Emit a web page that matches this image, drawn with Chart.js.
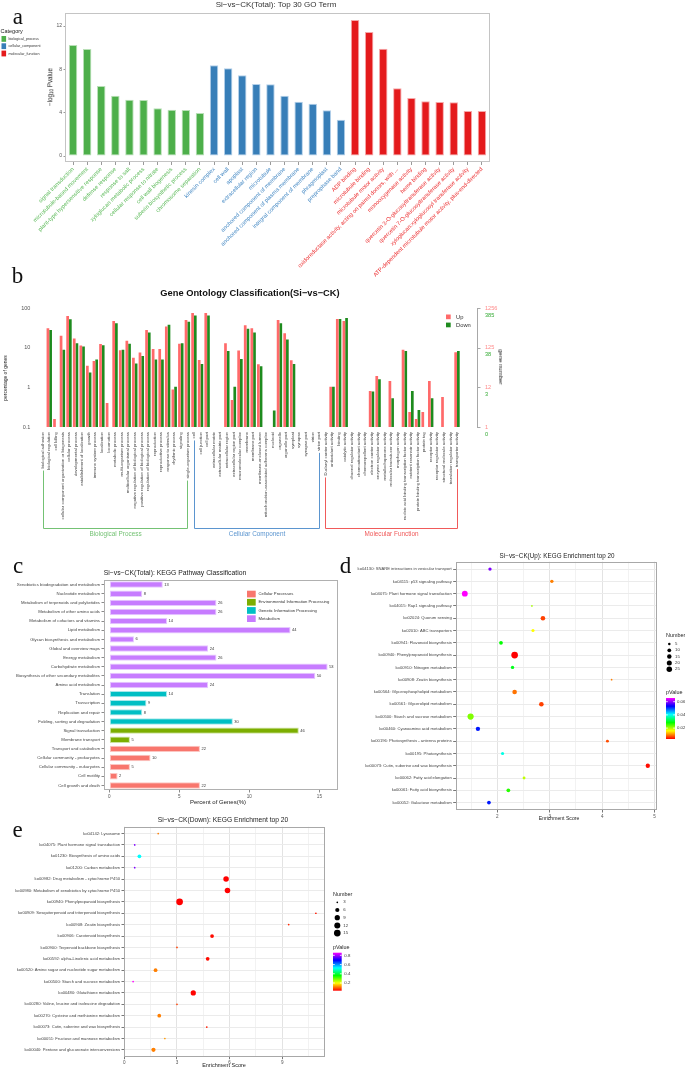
<!DOCTYPE html>
<html><head><meta charset="utf-8">
<script src="https://cdn.jsdelivr.net/npm/chart.js@4.4.1/dist/chart.umd.min.js"></script>
<style>
html,body{margin:0;padding:0;background:#fff;}
body{width:685px;height:1069px;position:relative;overflow:hidden;font-family:"Liberation Sans",Arial,Helvetica,sans-serif;}
canvas{position:absolute;}
.t{position:absolute;white-space:nowrap;line-height:1;}
</style></head><body>
<script>
// ================= DATA =================
// Panel a: Top 30 GO terms
const goTerms = ['signal transduction','microtubule-based movement','plant-type hypersensitive response','defense response','response to salt','xyloglucan metabolic process','cellular response to nitrate','cell wall biogenesis','suberin biosynthetic process','chromosome separation',
 'kinesin complex','cell wall','apoplast','extracellular region','microtubule','anchored component of membrane','anchored component of plasma membrane','integral component of membrane','phragmoplast','preprophase band',
 'ADP binding','microtubule binding','microtubule motor activity','oxidoreductase activity, acting on paired donors, with ...','monooxygenase activity','heme binding','quercetin 3-O-glucosyltransferase activity','quercetin 7-O-glucosyltransferase activity','xyloglucan:xyloglucosyl transferase activity','ATP-dependent microtubule motor activity, plus-end-directed'];
const goCategory = ['biological_process','biological_process','biological_process','biological_process','biological_process','biological_process','biological_process','biological_process','biological_process','biological_process',
 'cellular_component','cellular_component','cellular_component','cellular_component','cellular_component','cellular_component','cellular_component','cellular_component','cellular_component','cellular_component',
 'molecular_function','molecular_function','molecular_function','molecular_function','molecular_function','molecular_function','molecular_function','molecular_function','molecular_function','molecular_function'];
const goLogP = [10.25,9.88,6.46,5.57,5.2,5.17,4.4,4.27,4.25,3.97, 8.37,8.1,7.45,6.65,6.62,5.57,5.01,4.83,4.22,3.35, 12.56,11.45,9.9,6.25,5.36,5.05,4.99,4.96,4.16,4.16];
const goYTicks = [0,4,8,12];
const goCategoryNames = ['biological_process','cellular_component','molecular_function'];

// Panel b: GO classification
const gocBP = ['biological adhesion','biological regulation','cell killing','cellular component organization or biogenesis','cellular process','developmental process','establishment of localization','growth','immune system process','localization','locomotion','metabolic process','multi-organism process','multicellular organismal process','negative regulation of biological process','positive regulation of biological process','regulation of biological process','reproduction','reproductive process','response to stimulus','rhythmic process','signaling','single-organism process'];
const gocCC = ['cell','cell junction','cell part','extracellular matrix','extracellular matrix part','extracellular region','extracellular region part','macromolecular complex','membrane','membrane part','membrane-enclosed lumen','mitochondrion-associated adherens complex','nucleoid','organelle','organelle part','symplast','synapse','synapse part','virion','virion part'];
const gocMF = ['D-alanyl carrier activity','antioxidant activity','binding','catalytic activity','channel regulator activity','chemoattractant activity','chemorepellent activity','electron carrier activity','enzyme regulator activity','metallochaperone activity','molecular transducer activity','morphogen activity','nucleic acid binding transcription factor activity','nutrient reservoir activity','protein binding transcription factor activity','protein tag','receptor activity','receptor regulator activity','structural molecule activity','translation regulator activity','transporter activity'];
const gocGroupNames = ['Biological Process','Cellular Component','Molecular Function'];
const gocUp = [null,31,0.16,20,63,17,11.4,3.5,4.6,12.3,0.4,47,8.6,15,5.6,7.5,28,9.3,9.3,34,0.88,12.5,50,
 75,4.9,75,null,null,13,0.48,8.5,37,31,3.8,null,null,50,23,4.8,null,null,null,null,
 null,1.03,53,47,null,null,null,0.81,1.94,null,1.45,null,8.8,0.24,0.16,0.24,1.45,null,0.57,null,7.7];
const gocDown = [null,28,null,8.8,52,13,10.7,2.35,5.0,11.5,null,41,8.8,12.5,4.0,6.2,24,5.0,5.0,38,1.03,13,45,
 65,3.9,65,null,null,8.2,1.03,5.2,30,24,3.4,null,0.26,41,16,3.9,null,null,null,null,
 null,1.03,53,56,null,null,null,0.78,1.6,null,0.53,null,8.3,0.81,0.27,null,0.53,null,null,null,8.3];
const gocYTicks = [0.1,1,10,100];
const gocUpNumbers = ['1','12','125','1256'];
const gocDownNumbers = ['0','3','38','385'];

// Panel c: KEGG classification
const keggClasses = ['Xenobiotics biodegradation and metabolism','Nucleotide metabolism','Metabolism of terpenoids and polyketides','Metabolism of other amino acids','Metabolism of cofactors and vitamins','Lipid metabolism','Glycan biosynthesis and metabolism','Global and overview maps','Energy metabolism','Carbohydrate metabolism','Biosynthesis of other secondary metabolites','Amino acid metabolism','Translation','Transcription','Replication and repair','Folding, sorting and degradation','Signal transduction','Membrane transport','Transport and catabolism','Cellular community - prokaryotes','Cellular community - eukaryotes','Cell motility','Cell growth and death'];
const keggGroup = ['Metabolism','Metabolism','Metabolism','Metabolism','Metabolism','Metabolism','Metabolism','Metabolism','Metabolism','Metabolism','Metabolism','Metabolism',
 'Genetic Information Processing','Genetic Information Processing','Genetic Information Processing','Genetic Information Processing',
 'Environmental Information Processing','Environmental Information Processing',
 'Cellular Processes','Cellular Processes','Cellular Processes','Cellular Processes','Cellular Processes'];
const keggPercent = [3.82,2.35,7.65,7.65,4.12,12.94,1.76,7.06,7.65,15.59,14.71,7.06,4.12,2.65,2.35,8.82,13.53,1.47,6.47,2.94,1.47,0.59,6.47];
const keggGenes = [13,8,26,26,14,44,6,24,26,53,50,24,14,9,8,30,46,5,22,10,5,2,22];
const keggGroupNames = ['Cellular Processes','Environmental Information Processing','Genetic Information Processing','Metabolism'];
const keggXTicks = [0,5,10,15];

// Panel d: KEGG enrichment (Up)
const upPathways = ['ko04130: SNARE interactions in vesicular transport','ko04115: p53 signaling pathway','ko04075: Plant hormone signal transduction','ko04015: Rap1 signaling pathway','ko02024: Quorum sensing','ko02010: ABC transporters','ko00941: Flavonoid biosynthesis','ko00940: Phenylpropanoid biosynthesis','ko00910: Nitrogen metabolism','ko00908: Zeatin biosynthesis','ko00564: Glycerophospholipid metabolism','ko00561: Glycerolipid metabolism','ko00500: Starch and sucrose metabolism','ko00460: Cyanoamino acid metabolism','ko00196: Photosynthesis - antenna proteins','ko00195: Photosynthesis','ko00073: Cutin, suberine and wax biosynthesis','ko00062: Fatty acid elongation','ko00061: Fatty acid biosynthesis','ko00052: Galactose metabolism'];
const upScore = [1.86,3.04,1.38,2.66,2.87,2.68,2.07,2.33,2.29,4.18,2.33,2.84,1.49,1.63,4.10,2.10,4.87,2.51,2.21,1.84];
const upNumber = [8,8,29,4,16,7,10,40,8,4,16,16,33,14,6,7,14,6,10,10];
const upPValue = [0.0594,0.0097,0.0656,0.0203,0.0066,0.0159,0.0283,0.0035,0.0296,0.0097,0.0091,0.0066,0.0221,0.052,0.0072,0.0395,0.0041,0.019,0.0265,0.052];
const upXTicks = [1.5,2,2.5,3,3.5,4,4.5,5];
const upLegendNumbers = [5,10,15,20,25];
const upLegendP = [0.02,0.04,0.06];

// Panel e: KEGG enrichment (Down)
const downPathways = ['ko04142: Lysosome','ko04075: Plant hormone signal transduction','ko01230: Biosynthesis of amino acids','ko01200: Carbon metabolism','ko00982: Drug metabolism - cytochrome P450','ko00980: Metabolism of xenobiotics by cytochrome P450','ko00940: Phenylpropanoid biosynthesis','ko00909: Sesquiterpenoid and triterpenoid biosynthesis','ko00908: Zeatin biosynthesis','ko00906: Carotenoid biosynthesis','ko00900: Terpenoid backbone biosynthesis','ko00592: alpha-Linolenic acid metabolism','ko00520: Amino sugar and nucleotide sugar metabolism','ko00500: Starch and sucrose metabolism','ko00480: Glutathione metabolism','ko00280: Valine, leucine and isoleucine degradation','ko00270: Cysteine and methionine metabolism','ko00073: Cutin, suberine and wax biosynthesis','ko00051: Fructose and mannose metabolism','ko00040: Pentose and glucuronate interconversions'];
const downScore = [1.93,0.59,0.86,0.59,5.80,5.88,3.15,10.92,9.37,5.00,3.00,4.75,1.78,0.50,3.93,3.00,1.99,4.70,2.31,1.66];
const downNumber = [3,3,5,3,10,10,15,3,3,5,3,5,5,3,9,3,5,3,3,6];
const downPValue = [0.115,0.775,0.527,0.775,0.033,0.033,0.033,0.049,0.058,0.04,0.074,0.04,0.115,0.857,0.035,0.074,0.115,0.05,0.132,0.115];
const downXTicks = [0,1.5,3,4.5,6,7.5,9,10.5];
const downLegendNumbers = [3,6,9,12,15];
const downLegendP = [0.2,0.4,0.6,0.8];

// ================= STYLE / HELPERS =================
const SANS = '"Liberation Sans", Arial, sans-serif';
const SERIF = '"Liberation Serif", "Times New Roman", serif';
Chart.defaults.font.family = SANS;
Chart.defaults.color = '#4D4D4D';
Chart.defaults.animation = false;
Chart.defaults.responsive = false;
Chart.defaults.devicePixelRatio = 1;
Chart.defaults.events = [];
Chart.defaults.plugins.legend.display = false;
Chart.defaults.plugins.tooltip.enabled = false;

function mkCanvas(x,y,w,h){
  const c=document.createElement('canvas');
  c.width=w;c.height=h;c.style.left=x+'px';c.style.top=y+'px';c.style.width=w+'px';c.style.height=h+'px';
  document.body.appendChild(c);return c;
}
function addText(html,x,y,o){
  o=o||{};
  const d=document.createElement('div');d.className='t';d.innerHTML=html;
  d.style.left=x+'px';d.style.top=y+'px';d.style.fontSize=(o.size||6)+'px';
  d.style.color=o.color||'#222';
  if(o.weight)d.style.fontWeight=o.weight;
  if(o.family)d.style.fontFamily=o.family;
  const tx=o.anchor==='start'?'0':o.anchor==='end'?'-100%':'-50%';
  d.style.transform='translate('+tx+',-50%)'+(o.rotate?' rotate('+o.rotate+'deg)':'');
  document.body.appendChild(d);
}
function framePlugin(color,ext){
  return {id:'frame',afterDraw(ch){
    const a=ch.chartArea,ctx=ch.ctx;ctx.save();ctx.strokeStyle=color;ctx.lineWidth=1;
    ctx.strokeRect(Math.round(a.left-ext)+0.5,Math.round(a.top)+0.5,Math.round(a.right-a.left+2*ext)-1,Math.round(a.bottom-a.top)-1);
    ctx.restore();}};
}
const RAMP=[[0,255,0,0],[0.2,255,255,0],[0.4,0,255,0],[0.6,0,255,255],[0.8,0,0,255],[1,255,0,255]];
function rampColor(f){
  f=Math.max(0,Math.min(1,f));
  for(let i=1;i<RAMP.length;i++){
    if(f<=RAMP[i][0]){const a=RAMP[i-1],b=RAMP[i],t=(f-a[0])/(b[0]-a[0]);
      return 'rgb('+Math.round(a[1]+(b[1]-a[1])*t)+','+Math.round(a[2]+(b[2]-a[2])*t)+','+Math.round(a[3]+(b[3]-a[3])*t)+')';}
  }
  return 'rgb(255,0,255)';
}
function sizeRadius(n,lo,hi){ // area-type size scale (diameter in px)
  const d=1.7+5*Math.sqrt(Math.max(0,(n-lo)/(hi-lo)));
  return d/2;
}

// ================= PANEL A =================
const A_FILL={biological_process:'#4DAF4A',cellular_component:'#377EB8',molecular_function:'#E41A1C'};
const A_EDGE={biological_process:'#B9E0B7',cellular_component:'#B3D0EA',molecular_function:'#F5A8A9'};
const A_TEXT={biological_process:'#5CBA59',cellular_component:'#4589C4',molecular_function:'#EC2C2E'};
const aLegend={id:'aLegend',afterDraw(ch){
  const ctx=ch.ctx;ctx.save();ctx.textBaseline='middle';ctx.fillStyle='#222';
  ctx.font='5.5px '+SANS;ctx.fillText('Category',0.5,31.7);
  goCategoryNames.forEach((c,i)=>{
    const y=36+i*7.3;ctx.fillStyle=A_FILL[c];ctx.fillRect(1.5,y,4.6,5.8);
    ctx.fillStyle='#333';ctx.font='3.7px '+SANS;ctx.fillText(c,8.5,y+3);
  });
  ctx.restore();}};
new Chart(mkCanvas(0,0,685,300),{
  type:'bar',
  data:{labels:goTerms,datasets:[{data:goLogP,backgroundColor:goCategory.map(c=>A_FILL[c]),borderColor:goCategory.map(c=>A_EDGE[c]),borderWidth:1,borderSkipped:false,categoryPercentage:1,barPercentage:0.6}]},
  options:{
    layout:{padding:{left:0,top:13,right:196,bottom:0}},
    scales:{
      x:{grid:{display:true,drawOnChartArea:false,offset:false,tickLength:3,color:'#9A9A9A'},border:{display:false},
         ticks:{autoSkip:false,minRotation:45,maxRotation:45,padding:1,font:{size:5.7},color:c=>A_TEXT[goCategory[c.index]]},
         afterFit:s=>{s.height=138;}},
      y:{min:-0.55,max:13.2,afterBuildTicks:s=>{s.ticks=goYTicks.map(v=>({value:v}));},
         grid:{drawOnChartArea:false,tickLength:2.5,color:'#9A9A9A'},border:{display:false},
         ticks:{font:{size:5},padding:1.5,color:'#555'},afterFit:s=>{s.width=66;}}
    }
  },
  plugins:[framePlugin('#C4C4C4',1),aLegend]
});

// ================= PANEL B =================
const B_UP='#FF6A6A',B_DOWN='#1E8B1E';
const B_GROUP_COLORS=['#74C274','#5B95CF','#F05A5A'];
const gocTerms=[].concat(gocBP,gocCC,gocMF);
const gocGroupRanges=[[0,gocBP.length-1],[gocBP.length,gocBP.length+gocCC.length-1],[gocBP.length+gocCC.length,gocTerms.length-1]];
const bPlugin={id:'bExtra',afterDraw(ch){
  const ctx=ch.ctx,a=ch.chartArea,x=ch.scales.x,y=ch.scales.y;ctx.save();
  // right secondary axis
  const ax=a.right+16.7;
  ctx.strokeStyle='#A8A8A8';ctx.lineWidth=1;ctx.beginPath();
  ctx.moveTo(ax+0.5,y.getPixelForValue(100));ctx.lineTo(ax+0.5,y.getPixelForValue(0.1));
  gocYTicks.forEach(v=>{const py=Math.round(y.getPixelForValue(v))+0.5;ctx.moveTo(ax,py);ctx.lineTo(ax+3.5,py);});
  ctx.stroke();
  ctx.font='5.6px '+SANS;ctx.textBaseline='middle';
  gocYTicks.forEach((v,i)=>{const py=y.getPixelForValue(v);
    ctx.fillStyle='#FF8A8A';ctx.fillText(gocUpNumbers[i],ax+8,py);
    ctx.fillStyle='#33AA33';ctx.fillText(gocDownNumbers[i],ax+8,py+7.2);});
  // legend
  ctx.fillStyle=B_UP;ctx.fillRect(446,54.5,4.7,4.7);
  ctx.fillStyle=B_DOWN;ctx.fillRect(446,62.6,4.7,4.7);
  ctx.fillStyle='#333';ctx.font='5.8px '+SANS;ctx.fillText('Up',456,57);ctx.fillText('Down',456,65.1);
  // group brackets
  const lblFont='4.3px '+SANS;const by=268;
  gocGroupRanges.forEach((r,g)=>{
    ctx.font=lblFont;
    const x0=Math.round(x.getPixelForValue(r[0]))+0.5,x1=Math.round(x.getPixelForValue(r[1]))+0.5;
    const y0=x.top+5+ctx.measureText(gocTerms[r[0]]).width+2,y1=x.top+5+ctx.measureText(gocTerms[r[1]]).width+2;
    ctx.strokeStyle=B_GROUP_COLORS[g];ctx.lineWidth=1;ctx.beginPath();
    ctx.moveTo(x0,y0);ctx.lineTo(x0,by+0.5);ctx.lineTo(x1,by+0.5);ctx.lineTo(x1,y1);ctx.stroke();
    ctx.fillStyle=B_GROUP_COLORS[g];ctx.font='6.4px '+SANS;ctx.textAlign='center';
    ctx.fillText(gocGroupNames[g],(x0+x1)/2,by+6.3);ctx.textAlign='left';
  });
  ctx.restore();}};
new Chart(mkCanvas(0,260,685,300),{
  type:'bar',
  data:{labels:gocTerms,datasets:[
    {label:'Up',data:gocUp,backgroundColor:B_UP,categoryPercentage:0.82,barPercentage:1},
    {label:'Down',data:gocDown,backgroundColor:B_DOWN,categoryPercentage:0.82,barPercentage:1}]},
  options:{
    layout:{padding:{left:0,top:48,right:224.7,bottom:0}},
    scales:{
      x:{grid:{display:false,drawTicks:false},border:{display:false},
         ticks:{autoSkip:false,minRotation:90,maxRotation:90,padding:5,font:{size:4.3},color:'#444'},
         afterFit:s=>{s.height=133;}},
      y:{type:'logarithmic',min:0.1,max:100,afterBuildTicks:s=>{s.ticks=gocYTicks.map(v=>({value:v}));},
         ticks:{callback:v=>String(v),font:{size:5.5},padding:9,color:'#555'},
         grid:{display:false,drawTicks:false},border:{display:false},afterFit:s=>{s.width=39.4;}}
    }
  },
  plugins:[bPlugin]
});

// ================= PANEL C =================
const C_FILL={'Cellular Processes':'#F8766D','Environmental Information Processing':'#7CAE00','Genetic Information Processing':'#00BFC4','Metabolism':'#C77CFF'};
const C_EDGE={'Cellular Processes':'#FCC6C2','Environmental Information Processing':'#CDE4A0','Genetic Information Processing':'#A6E8EA','Metabolism':'#E6C9FF'};
const cPlugin={id:'cExtra',afterDatasetsDraw(ch){
  const ctx=ch.ctx;ctx.save();ctx.font='4px '+SANS;ctx.fillStyle='#333';ctx.textBaseline='middle';
  ch.getDatasetMeta(0).data.forEach((b,i)=>ctx.fillText(String(keggGenes[i]),b.x+1.5,b.y));
  ctx.restore();},
  afterDraw(ch){
  const ctx=ch.ctx,a=ch.chartArea;ctx.save();ctx.textBaseline='middle';ctx.font='4.2px '+SANS;
  keggGroupNames.forEach((g,i)=>{
    const y=a.top+10.7+i*8.2;ctx.fillStyle=C_FILL[g];ctx.fillRect(a.right-91,y,8.7,6.7);
    ctx.fillStyle='#333';ctx.fillText(g,a.right-79.5,y+3.4);});
  ctx.restore();}};
new Chart(mkCanvas(0,560,345,270),{
  type:'bar',
  data:{labels:keggClasses,datasets:[{data:keggPercent,backgroundColor:keggGroup.map(g=>C_FILL[g]),borderColor:keggGroup.map(g=>C_EDGE[g]),borderWidth:1,borderSkipped:false,barPercentage:0.7,categoryPercentage:1}]},
  options:{
    indexAxis:'y',
    layout:{padding:{left:0,top:20,right:7,bottom:0}},
    scales:{
      x:{min:-0.38,max:16.33,afterBuildTicks:s=>{s.ticks=keggXTicks.map(v=>({value:v}));},
         grid:{drawOnChartArea:false,tickLength:2.5,color:'#8A8A8A'},border:{display:false},
         ticks:{font:{size:4.6},padding:1,color:'#555'},afterFit:s=>{s.height=40;}},
      y:{grid:{drawOnChartArea:false,offset:false,tickLength:2.5,color:'#8A8A8A'},border:{display:false},
         ticks:{autoSkip:false,font:{size:4.3},padding:1.5,color:'#444'},afterFit:s=>{s.width=104;}}
    }
  },
  plugins:[framePlugin('#B0B0B0',0),cPlugin]
});

// ================= PANELS D & E (bubble plots) =================
function enrichLegend(numbers,lo,hi,pTicks,pLo,pHi,L){
  return {id:'enrichLegend',afterDraw(ch){
    const ctx=ch.ctx;ctx.save();ctx.textBaseline='middle';ctx.fillStyle='#222';
    ctx.font='5.4px '+SANS;ctx.fillText('Number',L.x,L.numTitle);
    numbers.forEach((n,i)=>{const cy=L.numY0+i*L.numStep;
      ctx.fillStyle='#000';ctx.beginPath();ctx.arc(L.cx,cy,sizeRadius(n,lo,hi),0,Math.PI*2);ctx.fill();
      ctx.font='4.3px '+SANS;ctx.fillStyle='#333';ctx.fillText(String(n),L.lx,cy);});
    ctx.fillStyle='#222';ctx.font='5.4px '+SANS;ctx.fillText('pValue',L.x,L.pTitle);
    const g=ctx.createLinearGradient(0,L.barBot,0,L.barTop);
    RAMP.forEach(s=>g.addColorStop(s[0],'rgb('+s[1]+','+s[2]+','+s[3]+')'));
    ctx.fillStyle=g;ctx.fillRect(L.x,L.barTop,L.barW,L.barBot-L.barTop);
    ctx.font='4.3px '+SANS;
    pTicks.forEach(p=>{const py=L.barBot-(p-pLo)/(pHi-pLo)*(L.barBot-L.barTop);
      ctx.strokeStyle='#fff';ctx.lineWidth=0.8;ctx.beginPath();ctx.moveTo(L.x,py);ctx.lineTo(L.x+1.8,py);ctx.moveTo(L.x+L.barW-1.8,py);ctx.lineTo(L.x+L.barW,py);ctx.stroke();
      ctx.fillStyle='#333';ctx.fillText(String(p),L.lx2,py);});
    ctx.restore();}};
}
function enrichChart(canvas,names,scores,numbers,pvals,xmin,xmax,xticks,major,pad,yw,xh,legend){
  const nLo=Math.min(...numbers),nHi=Math.max(...numbers),pLo=Math.min(...pvals),pHi=Math.max(...pvals);
  return new Chart(canvas,{
    type:'scatter',
    data:{datasets:[{data:scores.map((v,i)=>({x:v,y:i})),
      pointRadius:c=>sizeRadius(numbers[c.dataIndex],nLo,nHi),
      pointBackgroundColor:c=>rampColor((pvals[c.dataIndex]-pLo)/(pHi-pLo)),
      pointBorderWidth:0}]},
    options:{
      layout:{padding:pad},
      scales:{
        x:{type:'linear',min:xmin,max:xmax,afterBuildTicks:s=>{s.ticks=xticks.map(v=>({value:v}));},
           ticks:{autoSkip:false,callback:v=>(Math.abs(v/major-Math.round(v/major))<1e-6?String(v):''),font:{size:4.6},padding:1,color:'#555'},
           grid:{color:c=>(Math.abs(c.tick.value/major-Math.round(c.tick.value/major))<1e-6?'#E3E3E3':'#F2F2F2'),
                 tickColor:c=>(Math.abs(c.tick.value/major-Math.round(c.tick.value/major))<1e-6?'#777':'rgba(0,0,0,0)'),tickLength:2.5},
           border:{display:false},afterFit:s=>{s.height=xh;}},
        y:{type:'linear',reverse:true,min:-0.6,max:names.length-0.4,
           afterBuildTicks:s=>{s.ticks=names.map((_,i)=>({value:i}));},
           ticks:{autoSkip:false,callback:v=>names[v],font:{size:4.15},padding:1.5,color:'#444'},
           grid:{color:'#EBEBEB',tickColor:'#777',tickLength:2.5},border:{display:false},afterFit:s=>{s.width=yw;}}
      }
    },
    plugins:[framePlugin('#A8A8A8',0),enrichLegend(legend.numbers,nLo,nHi,legend.pTicks,pLo,pHi,legend.L)]
  });
}
// Panel d
enrichChart(mkCanvas(345,548,340,282),upPathways,upScore,upNumber,upPValue,1.206,5.04,upXTicks,1,
  {left:0,top:13.7,right:28.3,bottom:0},110.7,20,
  {numbers:upLegendNumbers,pTicks:upLegendP,
   L:{x:321,numTitle:88,cx:324.3,numY0:96,numStep:6.3,lx:330,pTitle:145,barTop:150,barBot:191,barW:9,lx2:332}});
// Panel e
enrichChart(mkCanvas(0,815,685,254),downPathways,downScore,downNumber,downPValue,-0.02,11.44,downXTicks,3,
  {left:0,top:11.7,right:360,bottom:0},124,12.3,
  {numbers:downLegendNumbers,pTicks:downLegendP,
   L:{x:333,numTitle:80,cx:337.3,numY0:87.3,numStep:7.7,lx:343.3,pTitle:133,barTop:137.7,barBot:175.7,barW:8.7,lx2:344.3}});

// ================= TEXT OVERLAYS =================
addText('a',17.8,16.2,{size:23,family:SERIF,color:'#111'});
addText('b',17.5,275,{size:23,family:SERIF,color:'#111'});
addText('c',18,564.5,{size:23,family:SERIF,color:'#111'});
addText('d',345.5,564.5,{size:23,family:SERIF,color:'#111'});
addText('e',17.5,829,{size:23,family:SERIF,color:'#111'});

addText('Si\u2212vs\u2212CK(Total): Top 30 GO Term',276,4.6,{size:8,color:'#333'});
addText('\u2212log<sub style="font-size:70%;vertical-align:-1px">10</sub> Pvalue',50.5,87,{size:6.3,color:'#222',rotate:-90});

addText('Gene Ontology Classification(Si\u2212vs\u2212CK)',250,294,{size:9.3,weight:'bold',color:'#111'});
addText('percentage of genes',5,378,{size:5,color:'#222',rotate:-90});
addText('gene number',500.5,366.5,{size:6,color:'#222',rotate:90});

addText('Si\u2212vs\u2212CK(Total): KEGG Pathway Classification',175,572.7,{size:6.8,color:'#222'});
addText('Percent of Genes(%)',218,802,{size:6,color:'#222'});

addText('Si\u2212vs\u2212CK(Up): KEGG Enrichment top 20',557,555.7,{size:6.3,color:'#222'});
addText('Enrichment Score',559,819,{size:5.1,color:'#222'});

addText('Si\u2212vs\u2212CK(Down): KEGG Enrichment top 20',223,820.3,{size:6.7,color:'#222'});
addText('Enrichment Score',224,1066,{size:5.5,color:'#222'});
</script>
</body></html>
